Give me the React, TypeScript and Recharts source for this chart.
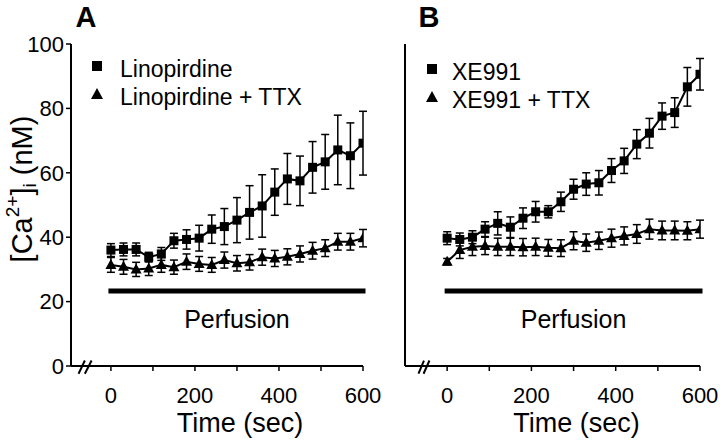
import React from 'react';
import {
  ComposedChart,
  Line,
  XAxis,
  YAxis,
  ErrorBar,
  ReferenceLine,
  Legend,
  Label
} from 'recharts';

// time points (sec), one every 30 s
const times = [0, 30, 60, 90, 120, 150, 180, 210, 240, 270, 300, 330, 360, 390, 420, 450, 480, 510, 540, 570, 600];

// panel A
const linopirdine = [36.0, 36.2, 36.2, 33.8, 34.8, 38.9, 39.3, 39.7, 42.5, 43.3, 45.3, 47.7, 49.7, 54.0, 58.1, 57.5, 61.7, 63.4, 67.1, 65.3, 69.2];
const linopirdineErr = [2, 2, 2, 1.5, 2, 2.3, 3, 4, 4.4, 5.6, 7, 8.3, 9.7, 7.2, 7.9, 7.7, 8, 8.5, 10.8, 10.2, 9.9];
const linopirdineTtx = [31.4, 30.8, 30.0, 30.3, 31.4, 30.7, 32.4, 31.7, 31.4, 32.9, 31.9, 32.2, 33.8, 33.4, 33.9, 34.8, 35.8, 36.6, 38.6, 38.6, 39.7];
const linopirdineTtxErr = [2.3, 2.3, 2.2, 2.2, 2.3, 2.2, 2.4, 2.3, 2.3, 2.5, 2.4, 2.4, 2.5, 2.5, 2.5, 2.5, 2.6, 2.6, 2.6, 2.6, 2.7];

// panel B
const xe991 = [39.7, 39.3, 40.0, 42.5, 44.3, 43.1, 45.9, 47.9, 47.9, 51.0, 54.9, 56.5, 56.9, 60.7, 63.7, 68.9, 72.3, 77.6, 78.7, 86.7, 90.6];
const xe991Err = [2, 2, 2, 2.3, 3.6, 3.2, 3.2, 3.2, 1.9, 3, 3.1, 3.5, 3.8, 3.7, 3.9, 4.5, 4.6, 4.1, 4.6, 6, 4.9];
const xe991Ttx = [32.4, 36.0, 37.0, 37.3, 37.0, 37.0, 36.9, 37.0, 36.7, 36.6, 38.9, 38.3, 38.9, 39.7, 40.4, 41.0, 42.5, 42.1, 42.1, 42.0, 42.5];
const xe991TtxErr = [1, 2.6, 2.7, 2.7, 2.7, 2.7, 2.7, 2.7, 2.6, 2.6, 2.8, 2.7, 2.7, 2.8, 2.8, 2.9, 3.1, 2.9, 2.9, 2.8, 2.8];

const yTicks = [0, 20, 40, 60, 80, 100];
const xTicks = [0, 100, 200, 300, 400, 500, 600];
const perfusionLevel = 23.3;
const perfusionStart = 0;
const perfusionEnd = 600;

const FONT = '"Liberation Sans", Arial, Helvetica, sans-serif';

const buildRows = (drug: number[], drugErr: number[], ttx: number[], ttxErr: number[]) =>
  times.map((t, i) => ({ t, drug: drug[i], drugErr: drugErr[i], ttx: ttx[i], ttxErr: ttxErr[i] }));

const squareDot = (p: any) => (
  <rect key={`sq-${p.index}`} x={p.cx - 4.5} y={p.cy - 4.5} width={9} height={9} fill='#000' />
);

const triangleDot = (p: any) => (
  <polygon
    key={`tr-${p.index}`}
    points={`${p.cx},${p.cy - 6} ${p.cx + 5.5},${p.cy + 4} ${p.cx - 5.5},${p.cy + 4}`}
    fill='#000'
  />
);

type PanelProps = {
  title: string;
  names: string[];
  drug: number[];
  drugErr: number[];
  ttx: number[];
  ttxErr: number[];
  left: number;
  width: number;
  margin: { top: number; right: number; bottom: number; left: number };
  yAxisWidth: number;
  xMin: number;
  showYLabels: boolean;
  legendPos: { top: number; left: number; gap: number };
  titleX: number;
  breakMarks: number[][];
};

const Panel: React.FC<PanelProps> = (props) => {
  const rows = buildRows(props.drug, props.drugErr, props.ttx, props.ttxErr);
  const xMin = props.xMin;

  const renderLegend = () => (
    <div style={{ fontFamily: FONT, fontSize: 23, color: '#000' }}>
      {props.names.map((n, i) => (
        <div key={n} style={{ display: 'flex', alignItems: 'center', height: 28, whiteSpace: 'nowrap' }}>
          <svg width={24} height={28} style={{ display: 'block' }}>
            {i === 0 ? (
              <rect x={7} y={6} width={10} height={10} fill='#000' />
            ) : (
              <polygon points='12,5 18,16 6,16' fill='#000' />
            )}
          </svg>
          <span style={{ marginLeft: props.legendPos.gap, lineHeight: '28px' }}>{n}</span>
        </div>
      ))}
    </div>
  );

  return (
    <div style={{ position: 'absolute', left: props.left, top: 0 }}>
      <ComposedChart width={props.width} height={440} data={rows} margin={props.margin}>
        <XAxis
          dataKey='t'
          type='number'
          domain={[xMin, 600]}
          ticks={xTicks}
          tickFormatter={(v: number) => (v % 200 === 0 ? String(v) : '')}
          tick={{ fontSize: 22, fill: '#000', fontFamily: FONT }}
          tickSize={5}
          tickMargin={16}
          height={30}
          axisLine={{ stroke: '#000', strokeWidth: 2 }}
          tickLine={{ stroke: '#000', strokeWidth: 1.5 }}
          allowDataOverflow
        >
          <Label
            content={(lp: any) => {
              const vb = lp.viewBox;
              const cx = vb.x + (vb.width * (300 - xMin)) / (600 - xMin) + 3;
              return (
                <text x={cx} y={vb.y + 66} textAnchor='middle' fontSize={27} fontFamily={FONT} fill='#000'>
                  Time (sec)
                </text>
              );
            }}
          />
        </XAxis>
        <YAxis
          type='number'
          domain={[0, 100]}
          ticks={yTicks}
          width={props.yAxisWidth}
          tick={props.showYLabels ? { fontSize: 22, fill: '#000', fontFamily: FONT } : false}
          tickSize={5}
          tickMargin={2}
          axisLine={{ stroke: '#000', strokeWidth: 2 }}
          tickLine={{ stroke: '#000', strokeWidth: 1.5 }}
        >
          <Label
            content={(lp: any) => {
              const vb = lp.viewBox;
              const cy = vb.y + vb.height / 2 - 16;
              return (
                <g>
                  <text
                    x={props.titleX}
                    y={27}
                    textAnchor='middle'
                    fontSize={29}
                    fontWeight='bold'
                    fontFamily={FONT}
                    fill='#000'
                  >
                    {props.title}
                  </text>
                  {props.showYLabels && (
                    <text
                      x={22}
                      y={cy}
                      transform={`rotate(-90, 22, ${cy})`}
                      textAnchor='middle'
                      dominantBaseline='central'
                      fontSize={29}
                      fontFamily={FONT}
                      fill='#000'
                    >
                      [Ca
                      <tspan fontSize={19} dy={-10}>2+</tspan>
                      <tspan dy={10}>]</tspan>
                      <tspan fontSize={19} dy={7}>i</tspan>
                      <tspan dy={-7}> (nM)</tspan>
                    </text>
                  )}
                </g>
              );
            }}
          />
        </YAxis>

        <Legend
          layout='vertical'
          align='center'
          verticalAlign='middle'
          content={renderLegend}
          wrapperStyle={{ top: props.legendPos.top, left: props.legendPos.left, width: 'auto' }}
        />

        <ReferenceLine
          segment={[{ x: perfusionStart, y: perfusionLevel }, { x: perfusionEnd, y: perfusionLevel }]}
          stroke='#000'
          strokeWidth={5}
          strokeLinecap='square'
          ifOverflow='visible'
          label={{
            content: (lp: any) => {
              const vb = lp.viewBox;
              return (
                <text x={vb.x + vb.width / 2} y={vb.y + 37} textAnchor='middle' fontSize={25} fontFamily={FONT} fill='#000'>
                  Perfusion
                </text>
              );
            }
          }}
        />

        {props.breakMarks.map((b, i) => (
          <ReferenceLine
            key={`brk-${i}`}
            segment={[{ x: b[0], y: -2.4 }, { x: b[1], y: 1.7 }]}
            stroke='#000'
            strokeWidth={2}
            ifOverflow='visible'
          />
        ))}

        <Line
          dataKey='ttx'
          type='linear'
          stroke='#000'
          strokeWidth={2}
          dot={triangleDot}
          activeDot={false}
          isAnimationActive={false}
        >
          <ErrorBar dataKey='ttxErr' direction='y' width={4} stroke='#000' strokeWidth={1.5} />
        </Line>
        <Line
          dataKey='drug'
          type='linear'
          stroke='#000'
          strokeWidth={2}
          dot={squareDot}
          activeDot={false}
          isAnimationActive={false}
        >
          <ErrorBar dataKey='drugErr' direction='y' width={4} stroke='#000' strokeWidth={1.5} />
        </Line>
      </ComposedChart>
    </div>
  );
};

export default function App() {
  return (
    <div style={{ position: 'absolute', left: 0, top: 0, width: 720, height: 440, background: '#fff', overflow: 'hidden' }}>
      <Panel
        title='A'
        names={['Linopirdine', 'Linopirdine + TTX']}
        drug={linopirdine}
        drugErr={linopirdineErr}
        ttx={linopirdineTtx}
        ttxErr={linopirdineTtxErr}
        left={0}
        width={400}
        margin={{ top: 44, right: 37, bottom: 44, left: 31 }}
        yAxisWidth={40}
        xMin={-95}
        showYLabels
        legendPos={{ top: 55, left: 85, gap: 11 }}
        titleX={86}
        breakMarks={[[-77, -62], [-62, -46]]}
      />
      <Panel
        title='B'
        names={['XE991', 'XE991 + TTX']}
        drug={xe991}
        drugErr={xe991Err}
        ttx={xe991Ttx}
        ttxErr={xe991TtxErr}
        left={372}
        width={348}
        margin={{ top: 44, right: 20, bottom: 44, left: 0 }}
        yAxisWidth={33}
        xMin={-100}
        showYLabels={false}
        legendPos={{ top: 58, left: 48, gap: 8 }}
        titleX={57}
        breakMarks={[[-68, -55], [-56, -42]]}
      />
    </div>
  );
}
